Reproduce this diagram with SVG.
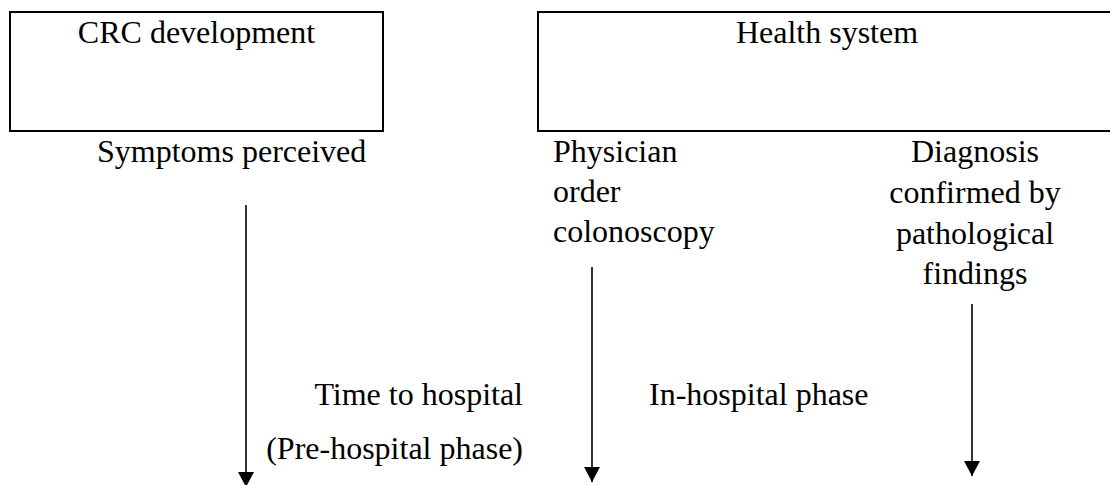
<svg xmlns="http://www.w3.org/2000/svg" width="1110" height="485" viewBox="0 0 1110 485">
  <style>
    .box { fill: #ffffff; stroke: #000000; stroke-width: 2; }
    .t { font-family: 'Times New Roman', 'Liberation Serif', 'DejaVu Serif', serif; font-size: 32px; fill: #000000; }
    .c { text-anchor: middle; }
    .e { text-anchor: end; }
    .conn { stroke: #000000; stroke-width: 1.6; fill: none; marker-end: url(#arrow); }
  </style>
  <defs>
    <marker id="arrow" viewBox="0 0 15 16" markerUnits="userSpaceOnUse" markerWidth="15" markerHeight="16" refX="15" refY="8" orient="auto">
      <path d="M0,0 L15,8 L0,16 Z" fill="#000000"/>
    </marker>
  </defs>
  <rect width="1110" height="485" fill="#ffffff"/>

  <g id="crc-development">
    <rect class="box" x="10" y="12" width="373" height="119"/>
    <text class="t c" x="196.5" y="43">CRC development</text>
  </g>

  <g id="health-system">
    <rect class="box" x="538" y="12" width="580" height="119"/>
    <text class="t c" x="827" y="43">Health system</text>
  </g>

  <g id="symptoms-perceived">
    <text class="t" x="97" y="162">Symptoms perceived</text>
  </g>

  <g id="physician-order">
    <text class="t" x="553" y="162">Physician</text>
    <text class="t" x="553" y="202">order</text>
    <text class="t" x="553" y="242">colonoscopy</text>
  </g>

  <g id="diagnosis-confirmed">
    <text class="t c" x="975" y="162">Diagnosis</text>
    <text class="t c" x="975" y="203">confirmed by</text>
    <text class="t c" x="975" y="244">pathological</text>
    <text class="t c" x="975" y="284">findings</text>
  </g>

  <g id="pre-hospital-phase">
    <text class="t e" x="523" y="405">Time to hospital</text>
    <text class="t e" x="523" y="459">(Pre-hospital phase)</text>
  </g>

  <g id="in-hospital-phase">
    <text class="t" x="649" y="405">In-hospital phase</text>
  </g>

  <g id="connectors">
    <line class="conn" x1="246" y1="205" x2="246" y2="487"/>
    <line class="conn" x1="592" y1="267" x2="592" y2="482"/>
    <line class="conn" x1="972" y1="304" x2="972" y2="476"/>
  </g>
</svg>
